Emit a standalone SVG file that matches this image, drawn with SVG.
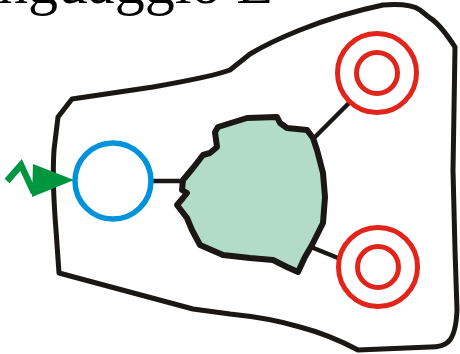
<svg xmlns="http://www.w3.org/2000/svg" width="460" height="354" viewBox="0 0 460 354">
<style>
.outline{fill:none;stroke:#1a1714;stroke-width:5;stroke-linejoin:round;stroke-linecap:round}
.conn{stroke:#1a1714;stroke-width:4.5;fill:none}
.red{fill:none;stroke:#e1251b;stroke-width:5}
.title{font-family:"Liberation Serif","Times New Roman",serif;font-size:60px;fill:#000}
</style>
<rect width="460" height="354" fill="#fff"/>
<text class="title" x="273" y="3" text-anchor="end">Linguaggio E</text>
<g id="boundary">
<path class="outline" d="M72,99 L153,87 Q215,76 230,70 Q240,62 250,54 Q270,42 300,30 Q340,14 383,5 Q410,3 420,10 L430,18 Q440,24 455,47 L454,110 L453,170 L455,250 L457,310 Q456,335 448,342 Q443,347 430,347 L358,350 Q330,335 300,327 Q270,318 230,314 L193,309 L59,273 L56,230 Q52,180 54,150 L58,117 Z"/>
</g>
<g id="connectors">
<line class="conn" x1="153" y1="181" x2="186" y2="181"/>
<line class="conn" x1="313" y1="139" x2="350" y2="102"/>
<line class="conn" x1="311" y1="247" x2="338" y2="258"/>
</g>
<g id="input">
<polyline points="7,181 21,165 34,193" fill="none" stroke="#009640" stroke-width="6.5" stroke-linejoin="miter"/>
<polygon points="33,164 74,180 32,197" fill="#009640"/>
</g>
<g id="start">
<circle cx="113" cy="181" r="38" fill="#fff" stroke="#0093dc" stroke-width="5.5"/>
</g>
<g id="process">
<path d="M218,127 L247,118 L277,117 L280,123 L287,128 L307,130 L313,138 L317,150 L323,173 L325,197 L323,223 L312,245 L305,257 L298,272 L287,267 L273,260 L250,258 L223,255 L200,245 L192,230 L187,218 L177,205 L183,198 L187,193 L182,190 L183,180 L193,168 L203,155 L210,153 L217,147 L215,132 Z" fill="#b2dcc8" stroke="#1a1714" stroke-width="6" stroke-linejoin="round"/>
</g>
<g id="target-top">
<circle class="red" cx="377" cy="73" r="39.5"/>
<circle class="red" cx="377" cy="73" r="20.5"/>
</g>
<g id="target-bottom">
<circle class="red" cx="378" cy="267" r="39.5"/>
<circle class="red" cx="378" cy="267" r="20.5"/>
</g>
</svg>
